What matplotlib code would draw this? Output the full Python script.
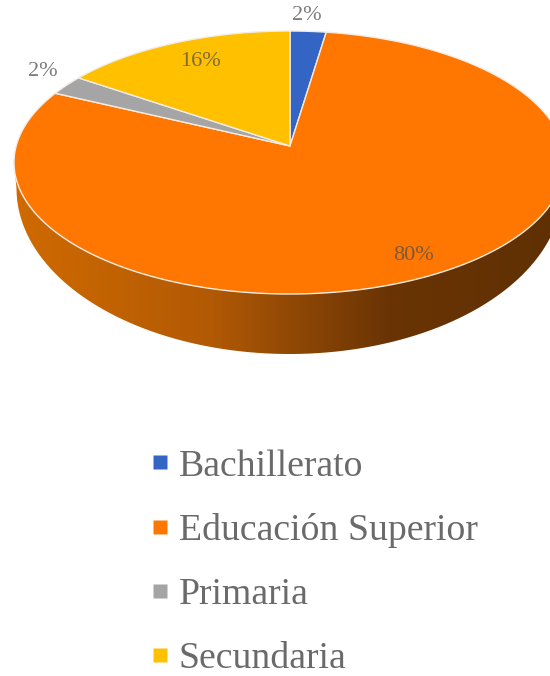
"""Flattened 3D pie with a thick side wall and a stacked legend."""

import numpy as np
import matplotlib
matplotlib.use('Agg')
import matplotlib.pyplot as plt

from matplotlib.colors import LinearSegmentedColormap
from matplotlib.lines import Line2D
from matplotlib.patches import PathPatch, Polygon
from matplotlib.path import Path

plt.rcParams['font.family'] = ['Liberation Serif', 'DejaVu Serif']

categories = ['Bachillerato', 'Educación Superior', 'Primaria', 'Secundaria']
shares = [2.4, 79.6, 2.45, 15.55]
colors = ['#3565c4', '#ff7600', '#a5a5a5', '#ffc000']

# Picture geometry, in pixels
CX, CY, RX, RY = 289.5, 162.5, 275.5, 131.5
APEX = np.array([290, 146])
# The lower rim of the wall is a smaller, rounder ellipse
LOW_CY, LOW_RX, LOW_RY = 188.5, 273, 165.5


def rim(t):
    """Point on the top ellipse, t clockwise from the top (radians)."""
    return np.column_stack([CX + RX * np.sin(t), CY - RY * np.cos(t)])


def rim_t(share):
    """Rim parameter hit by the ray of a cumulative share seen from the apex."""
    a = 2 * np.pi * share / 100
    d = np.array([RX * np.sin(a), -RY * np.cos(a)])
    p = (APEX - [CX, CY]) / [RX, RY]
    q = d / [RX, RY]
    A, B, C = q @ q, 2 * p @ q, p @ p - 1
    s = (-B + np.sqrt(B ** 2 - 4 * A * C)) / (2 * A)
    x, y = (p + s * q)
    return np.arctan2(x, -y) % (2 * np.pi)


fig = plt.figure(figsize=(5.5, 6.76), dpi=100)
ax = fig.add_axes([0, 0, 1, 1])
ax.set_xlim(0, 550)
ax.set_ylim(676, 0)
ax.axis('off')

# Side wall, shaded from left to right
t = np.linspace(np.pi / 2, 3 * np.pi / 2, 200)
top = rim(t)
low = np.column_stack([CX + LOW_RX * np.sin(t[::-1]), LOW_CY - LOW_RY * np.cos(t[::-1])])
wall = Path(np.vstack([top, low, top[:1]]))
wall_cmap = LinearSegmentedColormap.from_list(
    'wall', [(0, '#d06a00'), (.35, '#b35a05'), (.68, '#6a3404'), (1, '#5f3003')])
grad = ax.imshow(np.linspace(0, 1, 256)[None, :], cmap=wall_cmap, aspect='auto',
                 extent=[14, 565, 360, 150], zorder=1)
grad.set_clip_path(PathPatch(wall, transform=ax.transData))
ax.set_xlim(0, 550)
ax.set_ylim(676, 0)

# Top face
edges = np.cumsum([0] + shares)
for start, end, color in zip(edges[:-1], edges[1:], colors):
    t0 = rim_t(start)
    t1 = rim_t(end)
    if t1 < t0:
        t1 += 2 * np.pi
    arc = rim(np.linspace(t0, t1, 300))
    ax.add_patch(Polygon(np.vstack([APEX, arc]), closed=True, fc=color,
                         ec='#f4ece4', lw=1, zorder=2))

# Data labels
label_xy = [(307, 16), (414, 255), (43, 72), (200, 62)]
for share, (x, y) in zip(shares, label_xy):
    ax.text(x, y, f'{share:.0f}%', ha='center', va='center', fontsize=16,
            color='#505050', alpha=.75, zorder=3)

handles = [Line2D([], [], ls='', marker='s', ms=9.5, mfc=c, mec='none') for c in colors]
ax.legend(handles, categories, loc='upper left', bbox_to_anchor=(141 / 550, 1 - 449 / 676),
          frameon=False, fontsize=27.2, labelcolor='#6a6a6a', labelspacing=.78,
          handletextpad=0, handlelength=1, borderpad=0, borderaxespad=0)

fig.savefig('out.png', dpi=100)
